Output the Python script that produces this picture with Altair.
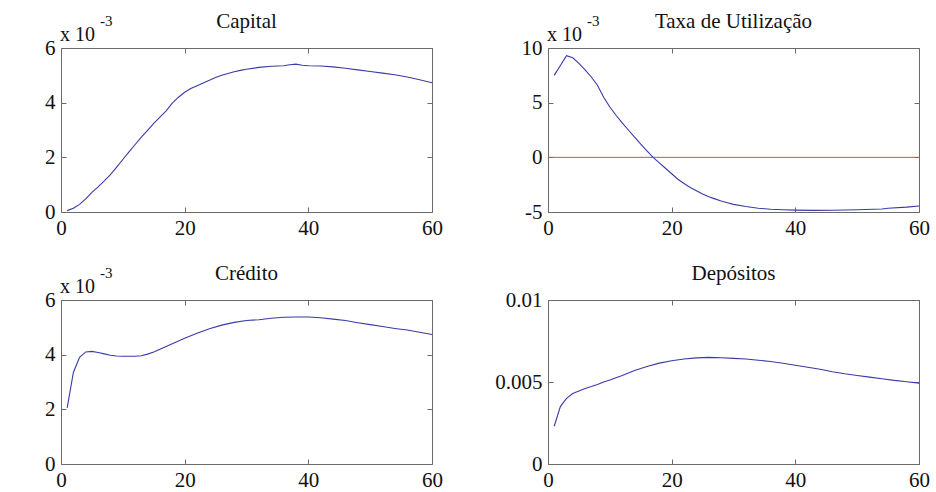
import altair as alt
import pandas as pd

# ---------------- data ----------------
# Capital (units of 1e-3)
t_cap = [1, 2, 3, 4, 5, 6, 7, 8, 9, 10, 11, 12, 13, 14, 15, 16, 17, 18, 19, 20,
         21, 22, 23, 24, 25, 26, 27, 28, 29, 30, 32, 34, 36, 37, 38, 39, 40,
         42, 44, 46, 48, 50, 52, 54, 56, 58, 60]
v_cap = [0.05, 0.14, 0.28, 0.48, 0.72, 0.92, 1.14, 1.37, 1.64, 1.92,
         2.2, 2.47, 2.74, 2.99, 3.24, 3.47, 3.7, 3.98, 4.2, 4.38,
         4.52, 4.62, 4.72, 4.82, 4.92, 5.0, 5.07, 5.13, 5.18, 5.22,
         5.29, 5.33, 5.35, 5.39, 5.41, 5.37, 5.35,
         5.34, 5.31, 5.26, 5.2, 5.14, 5.08, 5.02, 4.94, 4.84, 4.73]

# Taxa de Utilização (units of 1e-3)
t_tax = [1, 2, 3, 4, 5, 6, 7, 8, 9, 10, 11, 12, 13, 14, 15, 16, 17, 18, 19, 20,
         21, 22, 23, 24, 25, 26, 27, 28, 29, 30,
         32, 34, 36, 38, 40, 43, 46, 50, 54, 55, 58, 60]
v_tax = [7.5, 8.4, 9.3, 9.1, 8.6, 8.0, 7.35, 6.6, 5.5, 4.6,
         3.85, 3.15, 2.5, 1.85, 1.2, 0.6, 0.0, -0.5, -1.0, -1.5,
         -2.0, -2.4, -2.75, -3.05, -3.35, -3.6, -3.8, -4.0, -4.15, -4.3,
         -4.5, -4.65, -4.75, -4.8, -4.83, -4.85, -4.84, -4.8, -4.72, -4.65, -4.55, -4.45]

# Crédito (units of 1e-3)
t_cre = [1, 2, 3, 4, 5, 6, 7, 8, 9, 10, 11, 12, 13, 14, 15, 16, 17, 18, 19, 20,
         22, 24, 26, 28, 30, 32, 34, 36, 38, 40, 42, 44, 46, 48, 50, 52, 54, 56, 58, 60]
v_cre = [2.05, 3.35, 3.9, 4.1, 4.12, 4.08, 4.03, 3.98, 3.95, 3.94,
         3.94, 3.94, 3.96, 4.02, 4.1, 4.2, 4.3, 4.4, 4.5, 4.6,
         4.78, 4.95, 5.08, 5.18, 5.25, 5.28, 5.33, 5.37, 5.38, 5.38,
         5.35, 5.3, 5.25, 5.17, 5.1, 5.03, 4.96, 4.9, 4.82, 4.74]

# Depósitos (units of 1e-3)
t_dep = [1, 2, 3, 4, 5, 6, 7, 8, 9, 10,
         12, 14, 16, 18, 20, 22, 24, 26, 28, 30, 32, 34, 36, 38, 40,
         42, 44, 46, 48, 50, 52, 54, 56, 58, 60]
v_dep = [2.3, 3.5, 4.0, 4.3, 4.45, 4.6, 4.72, 4.85, 5.0, 5.12,
         5.4, 5.7, 5.95, 6.15, 6.3, 6.4, 6.47, 6.5, 6.48, 6.44, 6.4, 6.33, 6.25, 6.14, 6.02,
         5.9, 5.78, 5.63, 5.5, 5.4, 5.3, 5.2, 5.1, 5.02, 4.93]

titles = ["Capital", "Taxa de Utilização", "Crédito", "Depósitos"]
x_ticks = [0, 20, 40, 60]

SERIF = "Liberation Serif, Times New Roman, serif"
BLUE = "#3a3aa8"
RED = "#d05050"
FRAME = "#6a6a6a"
TXT = "#111111"
W, H = 371, 164
TICK = {"expr": "-5"}


def panel(t, v, title, ydom, yvals, label_expr, mult=True, zero=False):
    df = pd.DataFrame({"t": t, "v": [x * 1e-3 for x in v]})
    one = pd.DataFrame({"a": [0]})
    xs = alt.Scale(domain=[0, 60], nice=False, zero=False)
    ys = alt.Scale(domain=ydom, nice=False, zero=False)
    common = dict(title=None, grid=False, domain=False, tickSize=TICK,
                  tickColor=FRAME, tickWidth=1)
    ax_b = alt.Axis(orient="bottom", values=x_ticks, labelFont=SERIF,
                    labelFontSize=21, labelColor=TXT, labelPadding=10,
                    labelFlush=False, labelOverlap=False, **common)
    ax_t = alt.Axis(orient="top", values=x_ticks, labels=False, **common)
    ax_l = alt.Axis(orient="left", values=yvals, labelExpr=label_expr,
                    labelFont=SERIF, labelFontSize=21, labelColor=TXT,
                    labelPadding=11, labelFlush=False, labelOverlap=False,
                    **common)
    ax_r = alt.Axis(orient="right", values=yvals, labels=False, **common)

    layers = []
    if zero:
        layers.append(
            alt.Chart(pd.DataFrame({"z": [0.0]})).mark_rule(color=RED, strokeWidth=1)
            .encode(y=alt.Y("z:Q", scale=ys, axis=None))
        )
    layers.append(
        alt.Chart(df).mark_line(color=BLUE, strokeWidth=1.1)
        .encode(x=alt.X("t:Q", scale=xs, axis=ax_b), y=alt.Y("v:Q", scale=ys, axis=ax_l))
    )
    layers.append(
        alt.Chart(df).mark_line(opacity=0)
        .encode(x=alt.X("t:Q", scale=xs, axis=ax_t), y=alt.Y("v:Q", scale=ys, axis=ax_r))
    )
    # panel title
    layers.append(
        alt.Chart(one).mark_text(text=title, font=SERIF, fontSize=21, align="center",
                                 baseline="alphabetic", color=TXT)
        .encode(x=alt.value(W / 2), y=alt.value(-20))
    )
    if mult:
        layers.append(
            alt.Chart(one).mark_text(text="x 10", font=SERIF, fontSize=20, align="left",
                                     baseline="alphabetic", color=TXT)
            .encode(x=alt.value(-1), y=alt.value(-7))
        )
        layers.append(
            alt.Chart(one).mark_text(text="-3", font=SERIF, fontSize=15, align="left",
                                     baseline="alphabetic", color=TXT)
            .encode(x=alt.value(39), y=alt.value(-22))
        )
    return alt.layer(*layers).resolve_axis(x="independent", y="independent").properties(
        width=W, height=H
    )


scaled = "toString(round(datum.value * 1000))"
p1 = panel(t_cap, v_cap, titles[0], [0, 0.006], [0, 0.002, 0.004, 0.006], scaled)
p2 = panel(t_tax, v_tax, titles[1], [-0.005, 0.01], [-0.005, 0, 0.005, 0.01], scaled, zero=True)
p3 = panel(t_cre, v_cre, titles[2], [0, 0.006], [0, 0.002, 0.004, 0.006], scaled)
p4 = panel(t_dep, v_dep, titles[3], [0, 0.01], [0, 0.005, 0.01], "format(datum.value, '~g')", mult=False)

chart = alt.concat(p1, p2, p3, p4, columns=2, spacing={"row": 88, "column": 116},
                   bounds="flush").properties(
    padding={"left": 44, "top": 10, "right": 5, "bottom": 0},
    background="white",
).configure_view(stroke=FRAME, strokeWidth=1)

chart.save("out.html", embed_options={"renderer": "svg", "actions": False})
